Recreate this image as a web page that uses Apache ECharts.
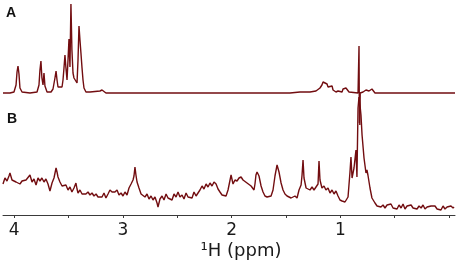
<!DOCTYPE html>
<html><head><meta charset="utf-8">
<script src="https://cdn.jsdelivr.net/npm/echarts@6/dist/echarts.min.js"></script>
<style>html,body{margin:0;padding:0;background:#fff}#c{width:459px;height:265px}</style>
</head><body><div id="c"></div>
<script>
// chemical shift range (ppm), axis reversed
const xMin = -0.055, xMax = 4.103;
const labelTicks = [1, 2, 3, 4];
const minorTicks = [0, 0.5, 1, 1.5, 2, 2.5, 3, 3.5, 4];
const axisTitle = '\u00B9H (ppm)';
const panelLabels = ['A', 'B'];

// Spectrum A: [ppm, intensity]
const spectrumA = [
[4.103,0],[4.039,0],[4.002,1],[3.983,8],[3.974,21],[3.965,27],[3.956,19],[3.947,5],[3.928,1],[3.855,0],
[3.790,1],[3.772,8],[3.763,23],[3.754,32],[3.745,15],[3.735,8],[3.726,20],[3.717,7],[3.698,1],[3.661,1],
[3.643,4],[3.625,15],[3.615,22],[3.606,13],[3.597,6],[3.579,4],[3.560,6],[3.551,13],[3.542,25],[3.533,38],
[3.524,25],[3.514,13],[3.505,33],[3.496,54],[3.487,26],[3.478,89],[3.469,43],[3.459,20],[3.450,15],[3.441,13],
[3.422,10],[3.413,33],[3.404,67],[3.395,53],[3.386,40],[3.376,25],[3.367,13],[3.358,5],[3.340,1],[3.303,1],
[3.257,1.5],[3.211,2],[3.192,3],[3.174,1],[3.156,0],[2.291,0],[1.463,0],[1.371,1],[1.279,1],[1.224,2],
[1.187,5],[1.169,8],[1.159,11],[1.141,10],[1.122,9],[1.113,6],[1.095,5],[1.076,7],[1.067,3],[1.040,1],
[1.021,2],[1.003,3],[0.984,1],[0.975,4],[0.957,2],[0.948,5],[0.939,3],[0.920,1],[0.902,0],[0.837,0],
[0.828,47],[0.8245,-30],[0.8225,-20],[0.8205,-32],[0.817,0],[0.810,0],[0.791,1],[0.773,1],[0.764,3],[0.755,2],
[0.746,4],[0.736,2],[0.727,4],[0.718,2],[0.709,4],[0.699,3],[0.681,0],[-0.055,0]
];

// Spectrum B: [ppm, intensity]
const spectrumB = [
[4.103,31],[4.085,37],[4.066,34],[4.048,39],[4.039,42],[4.020,35],[4.002,37],[3.983,33],[3.965,35],[3.947,31],
[3.928,34],[3.910,32],[3.891,35],[3.873,33],[3.855,40],[3.836,33],[3.818,36],[3.799,30],[3.781,37],[3.763,34],
[3.745,37],[3.726,33],[3.708,36],[3.689,31],[3.671,24],[3.652,32],[3.634,37],[3.615,47],[3.606,43],[3.597,38],
[3.579,33],[3.560,29],[3.542,27],[3.524,30],[3.505,25],[3.487,28],[3.469,23],[3.450,27],[3.432,32],[3.422,26],
[3.413,22],[3.395,25],[3.376,21],[3.358,22],[3.340,21],[3.321,23],[3.303,20],[3.284,22],[3.266,19],[3.247,21],
[3.229,18],[3.211,20],[3.192,18],[3.174,22],[3.156,17],[3.137,21],[3.119,25],[3.100,23],[3.091,25],[3.073,23],
[3.054,25],[3.036,20],[3.017,22],[2.999,19],[2.981,23],[2.962,20],[2.944,27],[2.925,31],[2.907,35],[2.898,39],
[2.889,48],[2.880,40],[2.870,33],[2.852,27],[2.833,21],[2.815,23],[2.797,18],[2.778,21],[2.760,16],[2.741,19],
[2.723,15],[2.705,18],[2.686,12],[2.677,8],[2.659,16],[2.640,19],[2.622,15],[2.603,21],[2.585,17],[2.567,19],
[2.548,15],[2.530,21],[2.511,18],[2.493,23],[2.475,18],[2.456,20],[2.438,16],[2.419,22],[2.401,18],[2.383,20],
[2.364,17],[2.346,23],[2.327,19],[2.309,21],[2.291,25],[2.272,29],[2.254,26],[2.235,31],[2.217,28],[2.199,32],
[2.180,29],[2.162,33],[2.143,31],[2.125,26],[2.107,23],[2.088,20],[2.070,18],[2.051,19],[2.033,25],[2.005,40],
[1.987,31],[1.969,35],[1.950,34],[1.932,37],[1.913,38],[1.895,35],[1.877,36],[1.858,32],[1.840,33],[1.821,29],
[1.803,31],[1.794,25],[1.785,31],[1.776,40],[1.766,43],[1.748,39],[1.729,29],[1.711,23],[1.693,19],[1.674,18],
[1.656,16],[1.637,19],[1.619,25],[1.601,39],[1.582,50],[1.564,43],[1.545,32],[1.527,25],[1.509,21],[1.490,19],
[1.472,20],[1.453,17],[1.435,15],[1.417,19],[1.398,17],[1.380,25],[1.361,30],[1.352,40],[1.343,55],[1.334,37],
[1.315,27],[1.297,29],[1.279,25],[1.260,28],[1.242,25],[1.224,23],[1.205,31],[1.196,54],[1.187,35],[1.169,27],
[1.150,29],[1.132,25],[1.113,27],[1.095,22],[1.076,25],[1.058,21],[1.040,24],[1.021,19],[1.003,15],[0.984,14],
[0.957,13],[0.929,18],[0.911,43],[0.902,58],[0.892,37],[0.874,47],[0.856,65],[0.847,38],[0.837,107],[0.828,118],
[0.819,110],[0.810,100],[0.800,80],[0.782,57],[0.764,42],[0.755,45],[0.746,40],[0.727,27],[0.709,17],[0.681,12],
[0.662,9],[0.644,11],[0.626,8],[0.607,10],[0.589,7],[0.570,10],[0.552,8],[0.534,11],[0.515,7],[0.497,9],
[0.478,6],[0.460,10],[0.441,7],[0.423,11],[0.405,6],[0.386,9],[0.368,7],[0.349,10],[0.331,7],[0.313,9],
[0.294,6],[0.276,9],[0.257,7],[0.239,10],[0.221,6],[0.202,8],[0.184,6],[0.165,9],[0.147,7],[0.129,9],
[0.110,6],[0.092,8],[0.074,5],[0.055,9],[0.037,6],[0.018,8],[0.000,6],[-0.018,9],[-0.037,7],[-0.046,8]
];

const lineColor = '#720d10';
const chart = echarts.init(document.getElementById('c'), null, {renderer: 'canvas'});
chart.setOption({
  animation: false,
  backgroundColor: '#fff',
  grid: [
    {left: 3, right: 4, top: 0, height: 133},
    {left: 3, right: 4, top: 90, height: 125}
  ],
  xAxis: [
    {gridIndex: 0, type: 'value', min: xMin, max: xMax, inverse: true, show: false},
    {gridIndex: 1, type: 'value', min: xMin, max: xMax, inverse: true,
     splitLine: {show: false},
     axisLine: {show: true, lineStyle: {color: '#3a3a3a', width: 1}},
     axisTick: {show: true, length: 3, inside: false, customValues: minorTicks, lineStyle: {color: '#3a3a3a'}},
     axisLabel: {customValues: labelTicks, fontFamily: 'DejaVu Sans', fontSize: 17, color: '#1a1a1a', margin: 7},
     name: axisTitle, nameLocation: 'middle', nameGap: 27,
     nameTextStyle: {fontFamily: 'DejaVu Sans', fontSize: 18, color: '#1a1a1a', padding: [0, 0, 0, 24]}
    }
  ],
  yAxis: [
    {gridIndex: 0, type: 'value', min: -40, max: 93, show: false},
    {gridIndex: 1, type: 'value', min: 0, max: 125, show: false}
  ],
  graphic: [
    {type: 'text', left: 6, top: 6, style: {text: panelLabels[0], font: 'bold 14px "Liberation Sans", Arial', fill: '#111'}},
    {type: 'text', left: 7, top: 112, style: {text: panelLabels[1], font: 'bold 14px "Liberation Sans", Arial', fill: '#111'}}
  ],
  series: [
    {type: 'line', xAxisIndex: 0, yAxisIndex: 0, data: spectrumA, showSymbol: false, symbol: 'none',
     lineStyle: {color: lineColor, width: 1.4}, clip: false},
    {type: 'line', xAxisIndex: 1, yAxisIndex: 1, data: spectrumB, showSymbol: false, symbol: 'none',
     lineStyle: {color: lineColor, width: 1.4}, clip: false}
  ]
});
</script>
</body></html>
